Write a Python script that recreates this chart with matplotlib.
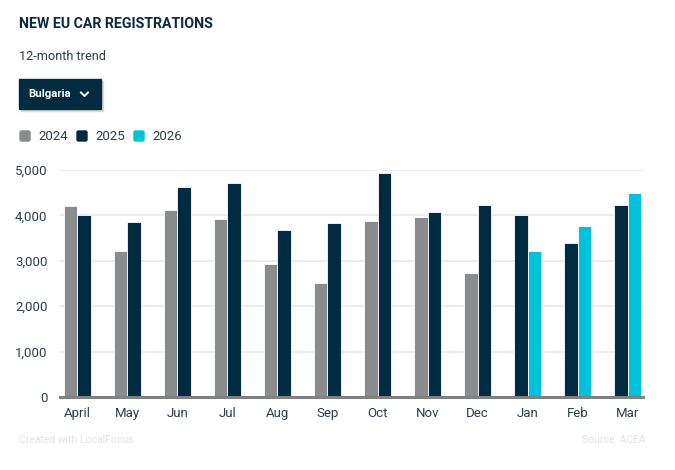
import matplotlib.pyplot as plt
from matplotlib.patches import Rectangle, FancyBboxPatch
import numpy as np

plt.rcParams['font.family'] = ['Roboto', 'DejaVu Sans']

# months shown (April 2025 -> March 2026 trend)
months = ["April", "May", "Jun", "Jul", "Aug", "Sep", "Oct", "Nov", "Dec", "Jan", "Feb", "Mar"]
# left bar = previous year, right bar = current year
y2024 = [4200, 3210, 4120, 3920, 2930, 2510, 3880, 3960, 2730]          # Apr-Dec 2024
y2025 = [4010, 3850, 4620, 4710, 3680, 3830, 4930, 4070, 4230,          # Apr-Dec 2025
         4010, 3390, 4230]                                               # Jan-Mar 2025
y2026 = [3210, 3770, 4490]                                               # Jan-Mar 2026
yticks = [0, 1000, 2000, 3000, 4000, 5000]

c24 = "#898c8c"
c25 = "#012b40"
c26 = "#00c3db"
txt = "#0d2b3e"

W, H = 675, 470
fig = plt.figure(figsize=(W / 100, H / 100), dpi=100)

ax = fig.add_axes([60 / W, (H - 397) / H, 583 / W, (397 - 170) / H])
x = np.arange(len(months))
bw = 0.27
# left bars
ax.bar(x[:9] - bw / 2, y2024, bw, color=c24, edgecolor="white", linewidth=0.6, zorder=3)
ax.bar(x[9:] - bw / 2, y2025[9:], bw, color=c25, edgecolor="white", linewidth=0.6, zorder=3)
# right bars
ax.bar(x[:9] + bw / 2, y2025[:9], bw, color=c25, edgecolor="white", linewidth=0.6, zorder=3)
ax.bar(x[9:] + bw / 2, y2026, bw, color=c26, edgecolor="white", linewidth=0.6, zorder=3)

ax.set_xlim(-0.34, 11.30)
ax.set_ylim(0, 5000)
ax.set_yticks(yticks)
ax.set_yticklabels([f"{v:,}" for v in yticks])
ax.set_xticks(x)
ax.set_xticklabels(months)
ax.tick_params(length=0, labelsize=9.5, colors="#2b3e4b", pad=9)
ax.tick_params(axis="x", pad=7)
for v in yticks[1:]:
    ax.axhline(v, color="#ececec", lw=1.5, zorder=1)
ax.axhline(0, color="#808080", lw=2.2, zorder=4, clip_on=False)
for s in ax.spines.values():
    s.set_visible(False)

# header overlay in pixel coords
ov = fig.add_axes([0, 0, 1, 1], zorder=-1)
ov.set_xlim(0, W)
ov.set_ylim(H, 0)
ov.axis("off")

fig.text(19 / W, 1 - 24 / H, "NEW EU CAR REGISTRATIONS", fontsize=10.2, fontweight="bold",
         color=txt, va="center", ha="left")
fig.text(19 / W, 1 - 57 / H, "12-month trend", fontsize=9.2, color="#2b3e4b",
         va="center", ha="left")

# dropdown button
ov.add_patch(Rectangle((21, 81), 82, 30, color="#dcdcdc", zorder=1))
ov.add_patch(Rectangle((19, 79), 82, 30, color=c25, zorder=2))
fig.text(28 / W, 1 - 94 / H, "Bulgaria", fontsize=8.2, fontweight="bold", color="white",
         va="center", ha="left", zorder=5)
ov.plot([81, 84.5, 88], [92.5, 96, 92.5], color="white", lw=1.4, zorder=3)

# legend
leg = [("2024", c24, 19), ("2025", c25, 76), ("2026", c26, 133)]
for lab, col, lx in leg:
    ov.add_patch(FancyBboxPatch((lx + 1, 131), 10, 10, boxstyle="round,pad=0,rounding_size=1.5",
                                color=col, zorder=2))
    fig.text((lx + 19) / W, 1 - 136 / H, lab, fontsize=9.5, color="#2b3e4b",
             va="center", ha="left")

# footer
fig.text(19 / W, 1 - 440 / H, "Created with LocalFocus", fontsize=7.5, color="#e2e2e2",
         va="center", ha="left")
fig.text(645 / W, 1 - 440 / H, "Source: ACEA", fontsize=7.5, color="#e2e2e2",
         va="center", ha="right")

fig.savefig("out.png", dpi=100)
